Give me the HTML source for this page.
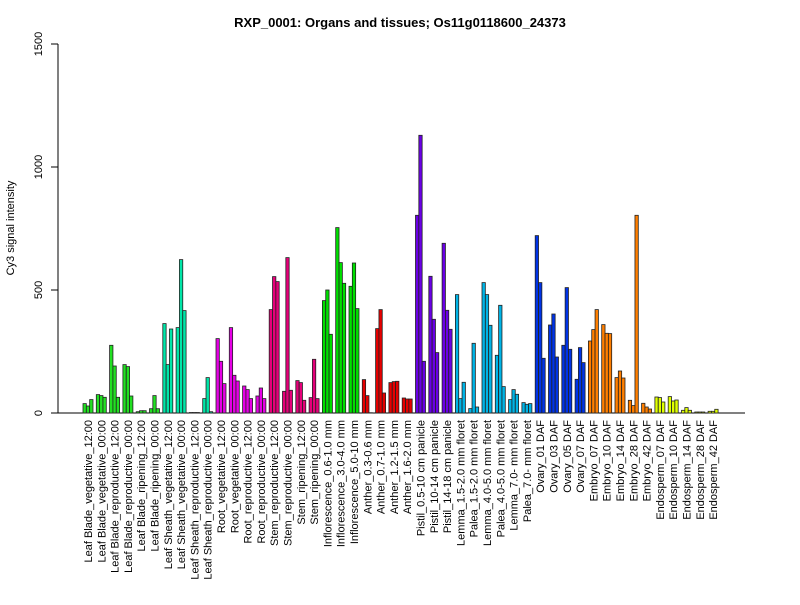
<!DOCTYPE html><html><head><style>body{margin:0;background:#fff}svg{font-family:"Liberation Sans",sans-serif}</style></head><body>
<svg id="s" width="800" height="600" xmlns="http://www.w3.org/2000/svg">
<text x="400" y="27" text-anchor="middle" font-weight="bold" font-size="13">RXP_0001: Organs and tissues; Os11g0118600_24373</text>
<g stroke="#000" fill="none"><path d="M58 413V44M58 413h-7M58 290h-7M58 167h-7M58 44h-7M58 413H745"/></g>
<g font-size="11" text-anchor="middle">
<text transform="translate(42 413) rotate(-90)">0</text>
<text transform="translate(42 290) rotate(-90)">500</text>
<text transform="translate(42 167) rotate(-90)">1000</text>
<text transform="translate(42 44) rotate(-90)">1500</text>
<text transform="translate(14 228) rotate(-90)">Cy3 signal intensity</text>
</g>
<g id="b" stroke="#222" stroke-width="0.8"></g>
<g id="l" font-size="11" text-anchor="end"></g>
</svg>
<script>
var H=[[9.4,7,13.4],[18.4,17.4,15.7],[67.7,47,15.7],[48.4,46.4,17],[1.3,2.3,2.3],[4.3,17.4,4.3],[89.4,48.4,84],[85.4,153.4,102.4],[0.5,0.5,0.5],[14.4,35.4,1.3],[74.4,51.7,29.4],[85.4,37.7,32],[27,23.4,14.4],[17,25,14.4],[103.4,136.4,131.4],[21.7,155.4,22.7],[32.4,30.4,12.7],[15.4,53.7,14.4],[112.4,123,78.7],[185.4,150.4,129.7],[126.7,150,104.4],[33.4,17.4,0.3],[84.4,103.4,20],[30.4,31.4,31.7],[15,14,14],[197.7,277.7,51.7],[136.7,93.7,60.4],[169.7,102.7,83.7],[118.4,14.4,30.7],[4.4,69.7,6],[130.4,118.4,87.7],[57.7,107.7,26.4],[13.4,23.4,18.7],[10.4,8.7,9.4],[177.4,130.4,54.7],[88,99,56],[67.7,125.4,63.7],[33.7,65.4,50.4],[72,83.4,103.4],[88.4,79.7,79.4],[35.4,42,35],[12.7,7.4,197.7],[9.7,6,4],[16,15.4,11],[16.4,12,13],[2.7,5.4,2.7],[1,1,1],[1.7,1.7,3.7]];
var L="Leaf Blade_vegetative_12:00|Leaf Blade_vegetative_00:00|Leaf Blade_reproductive_12:00|Leaf Blade_reproductive_00:00|Leaf Blade_ripening_12:00|Leaf Blade_ripening_00:00|Leaf Sheath_vegetative_12:00|Leaf Sheath_vegetative_00:00|Leaf Sheath_reproductive_12:00|Leaf Sheath_reproductive_00:00|Root_vegetative_12:00|Root_vegetative_00:00|Root_reproductive_12:00|Root_reproductive_00:00|Stem_reproductive_12:00|Stem_reproductive_00:00|Stem_ripening_12:00|Stem_ripening_00:00|Inflorescence_0.6-1.0 mm|Inflorescence_3.0-4.0 mm|Inflorescence_5.0-10 mm|Anther_0.3-0.6 mm|Anther_0.7-1.0 mm|Anther_1.2-1.5 mm|Anther_1.6-2.0 mm|Pistil_0.5-10 cm panicle|Pistil_10-14 cm panicle|Pistil_14-18 cm panicle|Lemma_1.5-2.0 mm floret|Palea_1.5-2.0 mm floret|Lemma_4.0-5.0 mm floret|Palea_4.0-5.0 mm floret|Lemma_7.0- mm floret|Palea_7.0- mm floret|Ovary_01 DAF|Ovary_03 DAF|Ovary_05 DAF|Ovary_07 DAF|Embryo_07 DAF|Embryo_10 DAF|Embryo_14 DAF|Embryo_28 DAF|Embryo_42 DAF|Endosperm_07 DAF|Endosperm_10 DAF|Endosperm_14 DAF|Endosperm_28 DAF|Endosperm_42 DAF".split("|");
function col(g){if(g<6)return"#22e022";if(g<10)return"#00e6a8";if(g<14)return"#e600e6";if(g<18)return"#e6007a";if(g<21)return"#00e000";if(g<25)return"#e60000";if(g<28)return"#6a00e6";if(g<34)return"#00b4e6";if(g<38)return"#0033e6";if(g<43)return"#ff7f00";return"#dfff00";}
var b="",l="";
for(var g=0;g<48;g++){var x0=83+13.3*g;for(var i=0;i<3;i++){var h=H[g][i];b+='<rect x="'+(x0+i*3.33).toFixed(2)+'" y="'+(413-h).toFixed(1)+'" width="3.33" height="'+h+'" fill="'+col(g)+'"/>';}
var cx=x0+5+4;l+='<text transform="translate('+cx.toFixed(1)+' 420) rotate(-90)">'+L[g]+'</text>';}
document.getElementById("b").innerHTML=b;document.getElementById("l").innerHTML=l;
</script></body></html>
